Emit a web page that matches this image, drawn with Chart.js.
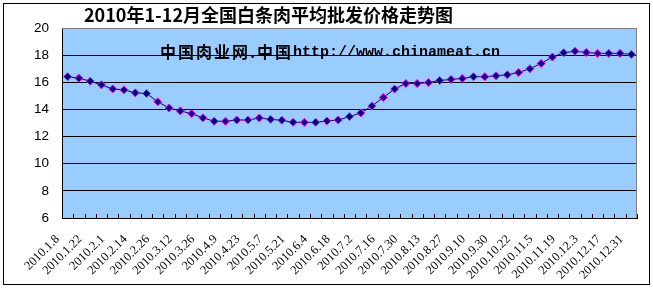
<!DOCTYPE html>
<html><head><meta charset="utf-8">
<script src="https://cdn.jsdelivr.net/npm/chart.js@4"></script>
<style>html,body{margin:0;padding:0;background:#fff}#wrap{width:653px;height:288px;position:relative}</style>
</head><body><div id="wrap"><canvas id="c" width="653" height="288"></canvas></div>
<script>
const titleText = '2010年1-12月全国白条肉平均批发价格走势图';
const watermarkCn = '中国肉业网.中国';
const watermarkUrl = 'http://www.chinameat.cn';
const tickLabels = ['2010.1.8','2010.1.22','2010.2.1','2010.2.14','2010.2.26','2010.3.12','2010.3.26','2010.4.9','2010.4.23','2010.5.7','2010.5.21','2010.6.4','2010.6.18','2010.7.2','2010.7.16','2010.7.30','2010.8.13','2010.8.27','2010.9.10','2010.9.30','2010.10.22','2010.11.5','2010.11.19','2010.12.3','2010.12.17','2010.12.31'];
const prices = [16.41,16.30,16.08,15.81,15.51,15.44,15.22,15.17,14.56,14.11,13.89,13.69,13.38,13.13,13.13,13.22,13.22,13.37,13.27,13.20,13.05,13.05,13.05,13.15,13.22,13.47,13.74,14.26,14.88,15.50,15.91,15.91,15.98,16.13,16.21,16.28,16.41,16.41,16.48,16.55,16.72,17.00,17.39,17.86,18.18,18.28,18.20,18.13,18.13,18.13,18.05];
const yMin = 6, yMax = 20, yStep = 2;

const categories = [];
tickLabels.forEach((l, i) => { categories.push(l); if (i < tickLabels.length - 1) categories.push(''); });

const decor = {
  id: 'decor',
  beforeDraw(chart) {
    const { ctx, chartArea: a } = chart;
    ctx.save();
    ctx.fillStyle = '#fff';
    ctx.fillRect(0, 0, chart.width, chart.height);
    ctx.fillStyle = '#99CCFF';
    ctx.fillRect(a.left, a.top, a.right - a.left, a.bottom - a.top);
    ctx.restore();
  },
  beforeDatasetsDraw(chart) {
    const { ctx } = chart;
    ctx.save();
    ctx.fillStyle = '#000';
    ctx.textBaseline = 'middle';
    ctx.textAlign = 'left';
    ctx.font = 'bold 16px "Noto Sans CJK SC", sans-serif';
    const w1 = ctx.measureText(watermarkCn).width;
    const gap = (293 - 160 - w1) / watermarkCn.length;
    let x = 160;
    for (const ch of watermarkCn) {
      ctx.fillText(ch, x, 52);
      x += ctx.measureText(ch).width + gap;
    }
    ctx.font = 'bold 15px "Liberation Mono", monospace';
    ctx.fillText(watermarkUrl, 293, 52);
    ctx.restore();
  },
  afterDraw(chart) {
    const { ctx, chartArea: a } = chart;
    const xs = chart.scales.x;
    ctx.save();
    ctx.strokeStyle = '#808080';
    ctx.lineWidth = 1;
    ctx.beginPath();
    ctx.moveTo(a.left, a.top + 0.5); ctx.lineTo(a.right - 0.5, a.top + 0.5); ctx.lineTo(a.right - 0.5, a.bottom);
    ctx.stroke();
    const w = xs.getPixelForValue(1) - xs.getPixelForValue(0);
    ctx.strokeStyle = '#000';
    ctx.beginPath();
    for (let k = 0; k <= categories.length; k++) {
      const x = Math.round(xs.getPixelForValue(0) - w / 2 + k * w) + 0.5;
      ctx.moveTo(x, a.bottom); ctx.lineTo(x, a.bottom - 4);
    }
    ctx.stroke();
    ctx.strokeStyle = '#000';
    ctx.strokeRect(3.5, 3.5, 646, 281);
    ctx.fillStyle = '#000';
    ctx.font = 'bold 18px "Noto Sans CJK SC", sans-serif';
    ctx.textAlign = 'center';
    ctx.textBaseline = 'middle';
    ctx.fillText(titleText, 268.5, 15.5);
    ctx.restore();
  }
};

new Chart(document.getElementById('c'), {
  type: 'line',
  data: {
    labels: categories,
    datasets: [{
      data: prices,
      borderColor: '#000080',
      borderWidth: 1,
      tension: 0,
      pointStyle: 'rectRot',
      pointRadius: 4,
      pointBackgroundColor: '#000080',
      pointBorderColor: '#FF00FF',
      pointBorderWidth: 1
    }]
  },
  options: {
    responsive: false,
    animation: false,
    devicePixelRatio: 1,
    layout: { padding: { top: 28, right: 16, left: 0, bottom: 0 } },
    plugins: { legend: { display: false }, tooltip: { enabled: false }, title: { display: false } },
    scales: {
      x: {
        type: 'category',
        offset: true,
        grid: { display: false },
        border: { display: true, color: '#000' },
        ticks: {
          autoSkip: false, minRotation: 45, maxRotation: 45,
          color: '#000', font: { family: 'Liberation Serif', size: 12.5 },
          padding: 6, labelOffset: -10
        },
        afterFit(s) { s.height = 70; }
      },
      y: {
        min: yMin, max: yMax,
        ticks: { stepSize: yStep, color: '#000', font: { family: 'Liberation Sans', size: 13.5 }, padding: 13 },
        grid: { color: c => (c.tick && c.tick.value === yMax) ? '#808080' : '#000', drawTicks: false, lineWidth: 1 },
        border: { display: true, color: '#000' },
        afterFit(s) { s.width = 62; }
      }
    }
  },
  plugins: [decor]
});
</script></body></html>
